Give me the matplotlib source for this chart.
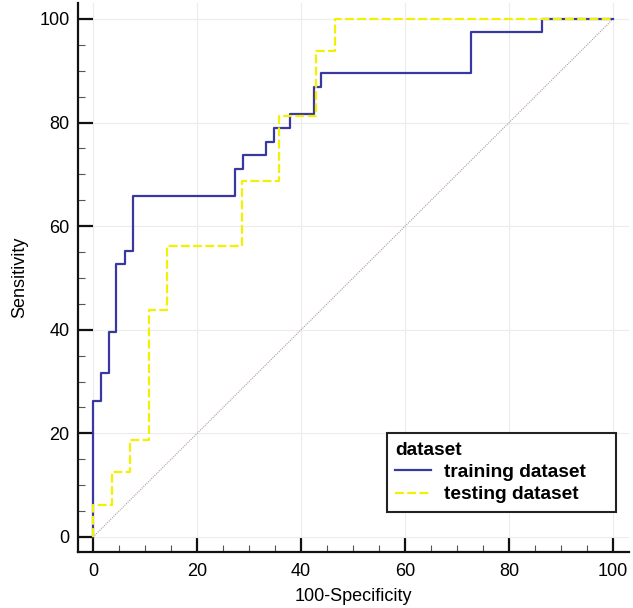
import matplotlib
matplotlib.use("Agg")
import matplotlib.pyplot as plt
from matplotlib.ticker import MultipleLocator

plt.rcParams['font.family'] = ['Liberation Sans', 'DejaVu Sans']

# ROC points (100-Specificity, Sensitivity)
train_fpr = [0, 0, 1.5, 3.0, 4.5, 6.1, 7.6, 27.3, 28.8, 33.3, 34.8, 37.9, 42.4, 43.9, 72.7, 86.4, 100]
train_tpr = [0, 26.3, 31.6, 39.5, 52.6, 55.3, 65.8, 71.1, 73.7, 76.3, 78.9, 81.6, 86.8, 89.5, 97.4, 100, 100]

test_fpr = [0, 0, 3.57, 7.14, 10.71, 14.29, 28.57, 35.71, 42.86, 46.43, 100]
test_tpr = [0, 6.25, 12.5, 18.75, 43.75, 56.25, 68.75, 81.25, 93.75, 100, 100]

ref_line = [0, 100]

fig = plt.figure(figsize=(6.33, 6.08), dpi=100)
ax = fig.add_axes([0.1232, 0.0921, 0.870, 0.9023])

ax.plot(ref_line, ref_line, color='#b89a9a', linewidth=0.8, linestyle=(0, (1, 1)), zorder=2)
# trailing spaces widen the legend box like the original
ax.plot(train_fpr, train_tpr, drawstyle='steps-post', color='#3838a0', linewidth=1.6,
        label='training dataset    ', zorder=3)
ax.plot(test_fpr, test_tpr, drawstyle='steps-post', color='#f2f200', linewidth=1.6,
        linestyle=(0, (4, 1.5)), label='testing dataset', zorder=4)

ax.set_xlim(-2.9, 103)
ax.set_ylim(-2.9, 103)

ax.xaxis.set_major_locator(MultipleLocator(20))
ax.xaxis.set_minor_locator(MultipleLocator(5))
ax.yaxis.set_major_locator(MultipleLocator(20))
ax.yaxis.set_minor_locator(MultipleLocator(5))

ax.spines['top'].set_visible(False)
ax.spines['right'].set_visible(False)
for s in ['left', 'bottom']:
    ax.spines[s].set_linewidth(1.6)
    ax.spines[s].set_color('#111111')

ax.tick_params(which='major', direction='in', length=10.8, width=1.6, color='#111111',
               labelsize=13, pad=6)
ax.tick_params(which='minor', direction='in', length=5, width=0.8, color='#555555')
ax.tick_params(axis='x', which='major', pad=8)

ax.grid(True, which='major', color='#ececec', linewidth=0.8, zorder=0)
ax.set_axisbelow(True)

ax.set_xlabel('100-Specificity', fontsize=13, labelpad=6)
ax.set_ylabel('Sensitivity', fontsize=13, labelpad=8)

leg = ax.legend(loc='lower right', bbox_to_anchor=(0.977, 0.073), title='dataset',
                title_fontproperties={'weight': 'bold', 'size': 13.8},
                prop={'weight': 'bold', 'size': 13.8}, alignment='left',
                fancybox=False, framealpha=1, edgecolor='#222222', borderaxespad=0,
                handlelength=1.85, handletextpad=0.7, labelspacing=0.25, borderpad=0.45)
leg.get_frame().set_linewidth(1.5)

fig.savefig('out.png', dpi=100)
